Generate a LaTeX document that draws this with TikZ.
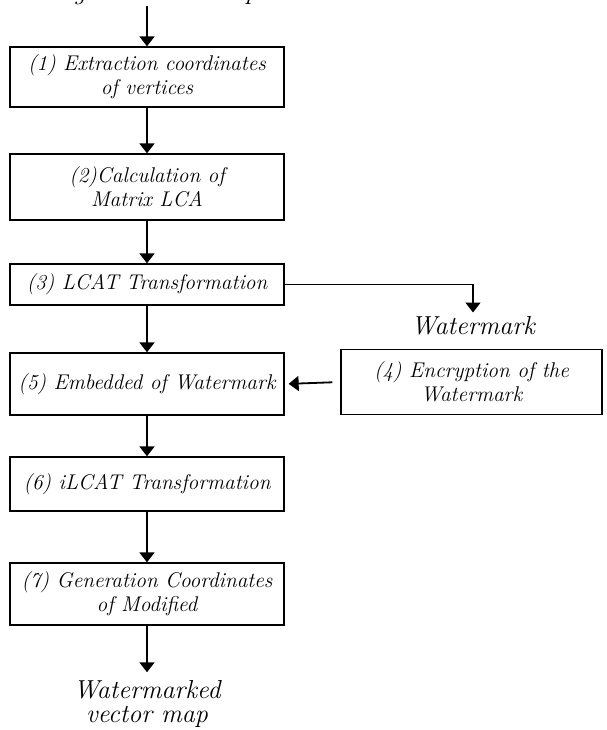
\documentclass[tikz,border=0pt]{standalone}
\usepackage{tikz}
\usetikzlibrary{arrows.meta,positioning,calc}

\tikzset{
  procbox/.style={
    draw=black,
    line width=1.3pt,
    minimum width=274pt,
    inner sep=2pt,
    align=center,
    font=\fontsize{21.3}{24}\selectfont\itshape
  },
  outlabel/.style={
    inner sep=0pt,
    align=center,
    font=\fontsize{26}{24}\selectfont\itshape
  },
  flowarrow/.style={
    line width=1.8pt,
    -{Triangle[width=15pt,length=10pt]}
  }
}

\begin{document}
\begin{tikzpicture}[x=1pt,y=-1pt]
    \useasboundingbox (0,0) rectangle (606,730);

    % input and main chain
    \node[outlabel, anchor=base] (orig) at (147,0) {Original vector map};
    \node[procbox, minimum height=60pt] (s1) at (147,77)
      {(1) Extraction coordinates\\of vertices};
    \node[procbox, minimum height=66pt] (s2) at (147,187)
      {(2)Calculation of\\Matrix LCA};
    \node[procbox, minimum height=41pt] (s3) at (147,284.5)
      {(3) LCAT Transformation};
    \node[procbox, minimum height=62pt] (s5) at (147,384)
      {(5) Embedded of Watermark};
    \node[procbox, minimum height=54pt] (s6) at (147,484)
      {(6) iLCAT Transformation};
    \node[procbox, minimum height=62pt] (s7) at (147,594)
      {(7) Generation Coordinates\\of Modified};
    \node[outlabel] (out) at (147,704) {Watermarked\\vector map};

    % watermark branch
    \node[outlabel] (wm) at (473,326) {Watermark};
    \node[procbox, minimum width=261pt, minimum height=65pt] (s4) at (471.5,382)
      {(4) Encryption of the\\Watermark};

    \draw[flowarrow] (orig.south) -- (s1.north);
    \draw[flowarrow] (s1) -- (s2);
    \draw[flowarrow] (s2) -- (s3);
    \draw[flowarrow] (s3) -- (s5);
    \draw[flowarrow] (s5) -- (s6);
    \draw[flowarrow] (s6) -- (s7);
    \draw[flowarrow, shorten >=8pt] (s7) -- (out);
    \draw[flowarrow, shorten >=4pt] (s3.east) -| (wm.north);
    \draw[flowarrow, shorten <=8pt, shorten >=4pt] (s4.west) -- (s5.east);
  \end{tikzpicture}
\end{document}
